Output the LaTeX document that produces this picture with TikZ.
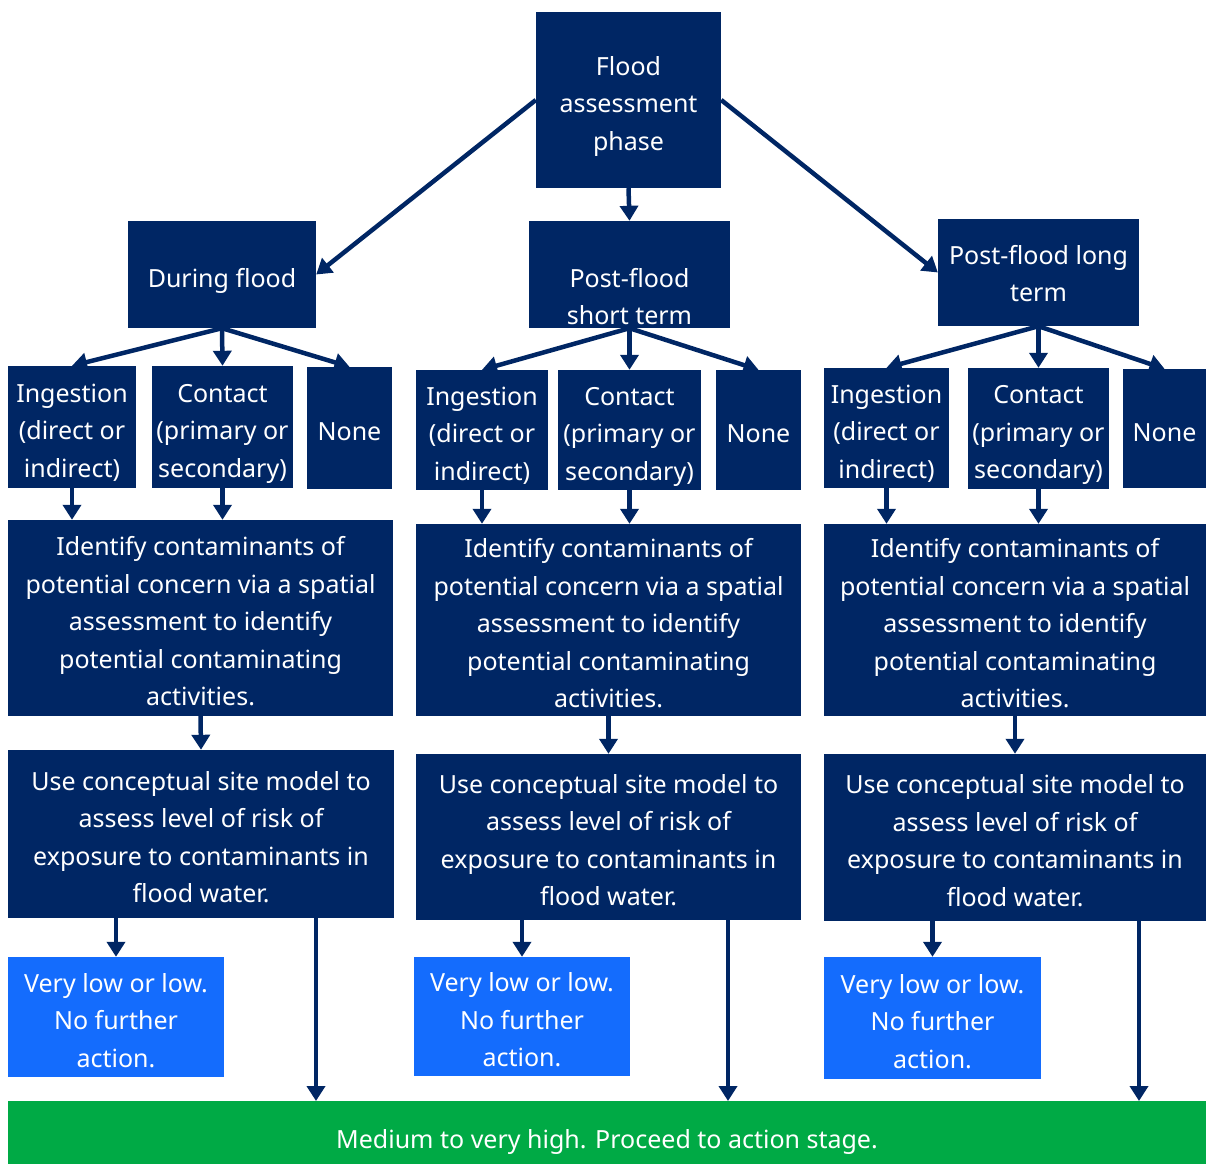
\documentclass[tikz,border=0pt]{standalone}
\usepackage{fontspec}
\setmainfont{Noto Sans}
\usetikzlibrary{arrows.meta}
\definecolor{navy}{HTML}{002664}
\definecolor{bright}{HTML}{146CFD}
\definecolor{grn}{HTML}{00AA45}
\newcommand\bx[8][5pt]{\pgfmathsetmacro\bw{#5-#3}\pgfmathsetmacro\bh{#6-#4}%
  \node[#7,minimum width=\bw pt,minimum height=\bh pt] (#2) at ({(#3+#5)/2},{(#4+#6)/2})
  {\raisebox{-#1}[\height][\depth]{\begin{tabular}{@{}c@{}}#8\end{tabular}}};}
\begin{document}
\begin{tikzpicture}[x=1pt,y=-1pt,
  box/.style={fill=navy,text=white,inner sep=0pt,align=center,font=\fontsize{25}{37.5}\selectfont},
  lbox/.style={box,fill=bright},
  gbox/.style={box,fill=grn},
  arr/.style={draw=navy,line width=4.5pt,-{Triangle[width=18pt,length=15pt]}}]
\useasboundingbox (0,0) rectangle (1206,1164);
% top
\bx{top}{536}{12}{721}{188}{box}{Flood\\assessment\\phase}
\bx{during}{128}{221}{316}{328}{box}{During flood}
\bx[24pt]{short}{529}{221}{730}{328}{box}{Post-flood\\short term}
\bx[3pt]{long}{938}{219}{1139}{326}{box}{Post-flood long\\term}
% column 1
\bx{ing1}{8}{366}{136}{488}{box}{Ingestion\\(direct or\\indirect)}
\bx{con1}{152}{366}{293}{488}{box}{Contact\\(primary or\\secondary)}
\bx{none1}{307}{367}{392}{489}{box}{None}
\bx{id1}{8}{520}{393}{716}{box}{Identify contaminants of\\potential concern via a spatial\\assessment to identify\\potential contaminating\\activities.}
\bx{csm1}{8}{750}{394}{918}{box}{Use conceptual site model to\\assess level of risk of\\exposure to contaminants in\\flood water.}
\bx{vl1}{8}{957}{224}{1077}{lbox}{Very low or low.\\No further\\action.}
% column 2
\bx{ing2}{416}{370}{548}{490}{box}{Ingestion\\(direct or\\indirect)}
\bx{con2}{558}{370}{701}{490}{box}{Contact\\(primary or\\secondary)}
\bx{none2}{716}{370}{801}{490}{box}{None}
\bx{id2}{416}{524}{801}{716}{box}{Identify contaminants of\\potential concern via a spatial\\assessment to identify\\potential contaminating\\activities.}
\bx{csm2}{416}{754}{801}{920}{box}{Use conceptual site model to\\assess level of risk of\\exposure to contaminants in\\flood water.}
\bx{vl2}{414}{957}{630}{1076}{lbox}{Very low or low.\\No further\\action.}
% column 3
\bx{ing3}{824}{368}{949}{488}{box}{Ingestion\\(direct or\\indirect)}
\bx{con3}{968}{368}{1109}{489}{box}{Contact\\(primary or\\secondary)}
\bx{none3}{1123}{369}{1206}{488}{box}{None}
\bx{id3}{824}{524}{1206}{716}{box}{Identify contaminants of\\potential concern via a spatial\\assessment to identify\\potential contaminating\\activities.}
\bx{csm3}{824}{754}{1206}{921}{box}{Use conceptual site model to\\assess level of risk of\\exposure to contaminants in\\flood water.}
\bx{vl3}{824}{957}{1041}{1079}{lbox}{Very low or low.\\No further\\action.}
% green
\bx[8pt]{green}{8}{1101}{1206}{1164}{gbox}{Medium to very high. Proceed to action stage.}
\coordinate (g1) at (316,1101);
\coordinate (g2) at (728,1101);
\coordinate (g3) at (1139,1101);
% arrows top
\draw[arr] (top.west) -- (during.east);
\draw[arr] (top.east) -- (long.west);
\draw[arr] (top.south) -- (short.north);
% branches
\foreach \p/\i/\c/\n/\d/\cs/\v/\g in {during/ing1/con1/none1/id1/csm1/vl1/g1,short/ing2/con2/none2/id2/csm2/vl2/g2,long/ing3/con3/none3/id3/csm3/vl3/g3}{
  \draw[arr] (\p.south) -- (\i.north);
  \draw[arr] (\p.south) -- (\c.north);
  \draw[arr] (\p.south) -- (\n.north);
  \draw[arr] (\i.south) -- (\i.south |- \d.north);
  \draw[arr] (\c.south) -- (\c.south |- \d.north);
  \draw[arr] (\d.south) -- (\cs.north);
  \draw[arr] (\v.north |- \cs.south) -- (\v.north);
  \draw[arr] (\g |- \cs.south) -- (\g);
}
\end{tikzpicture}
\end{document}
